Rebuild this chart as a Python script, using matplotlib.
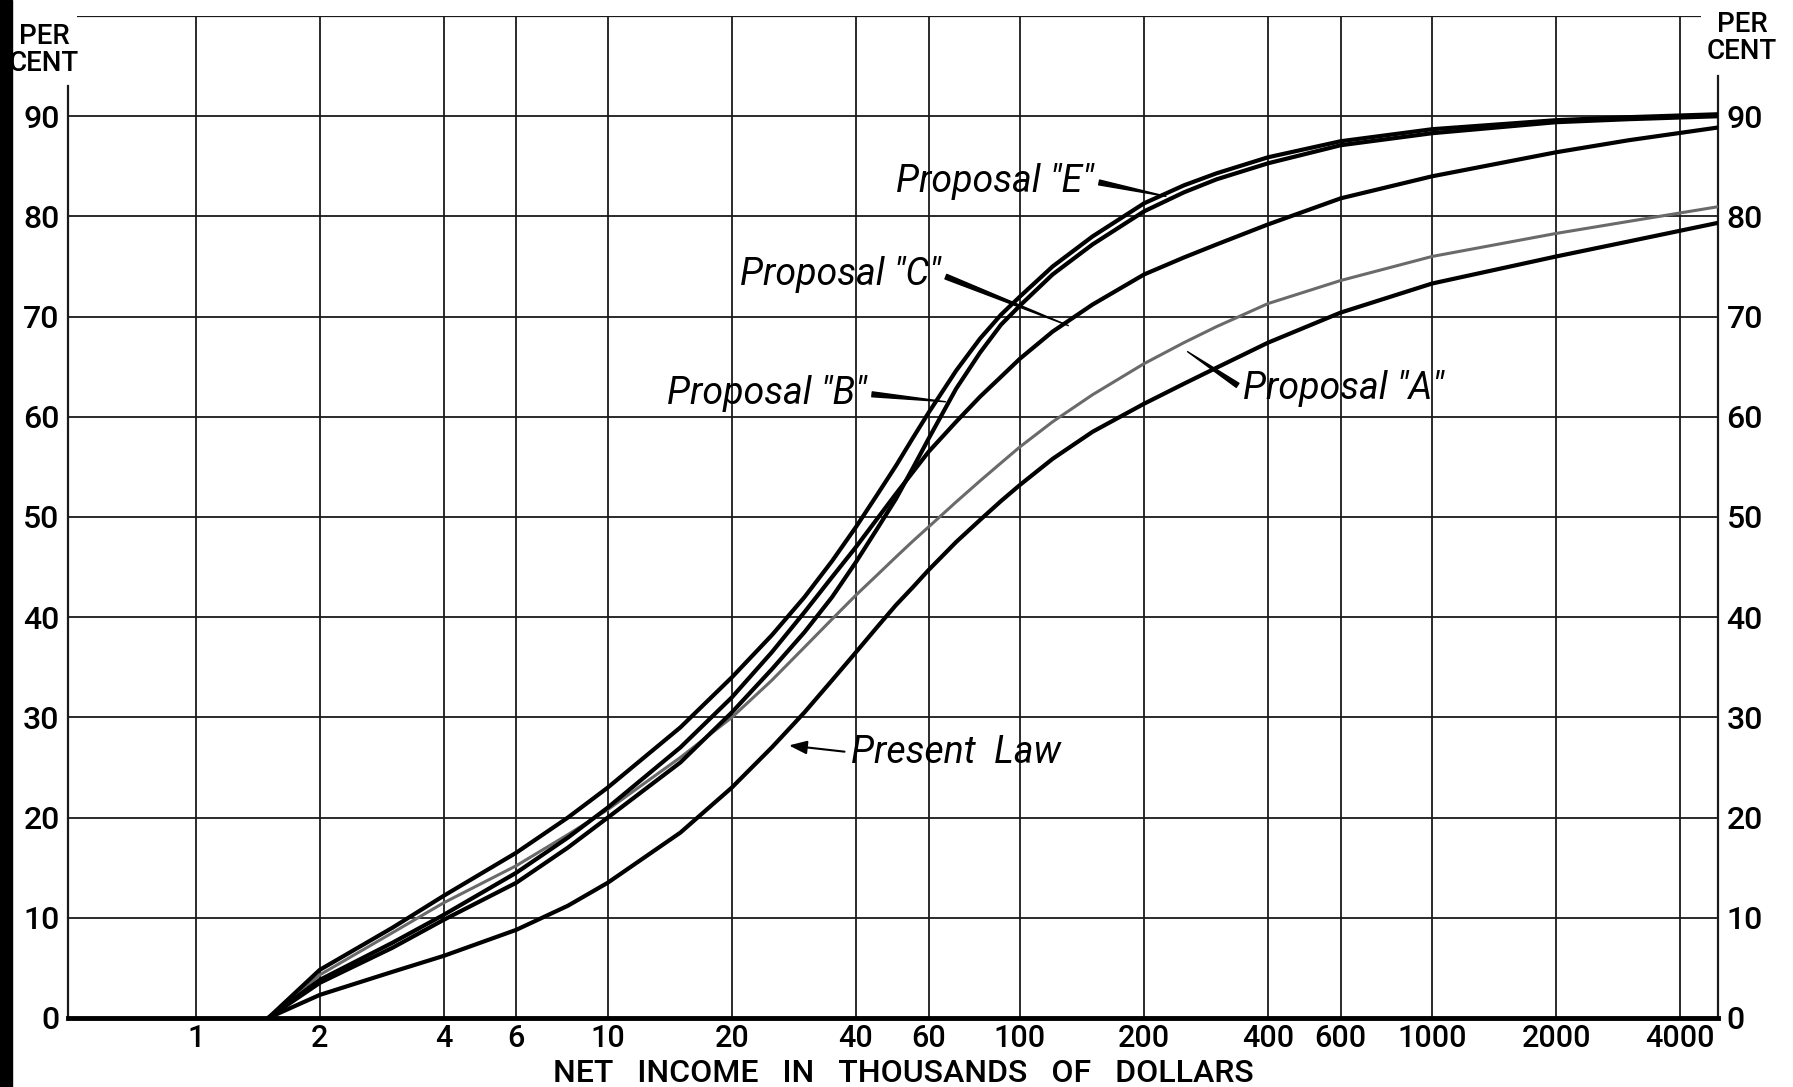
import matplotlib
matplotlib.use("Agg")
import matplotlib.pyplot as plt
from matplotlib.patches import Rectangle

plt.rcParams['font.family'] = ['Roboto', 'DejaVu Sans']

# income in thousands of dollars (log axis)
income = [1.5, 2, 3, 4, 6, 8, 10, 15, 20, 25, 30, 35, 40, 45, 50, 55, 60, 70, 80, 90, 100,
          120, 150, 200, 250, 300, 400, 600, 1000, 2000, 3000, 5000]

present_law = [0, 2.3, 4.6, 6.2, 8.8, 11.2, 13.5, 18.5, 23, 27, 30.5, 33.7, 36.5, 39, 41.2, 43,
               44.7, 47.5, 49.7, 51.6, 53.2, 55.8, 58.5, 61.3, 63.3, 64.9, 67.4, 70.4, 73.3,
               76.0, 77.5, 79.4]
proposal_a = [0, 4.3, 8.5, 11.5, 15.2, 18.3, 20.8, 26, 30, 33.7, 37, 39.8, 42.2, 44.2, 46, 47.6,
              49, 51.5, 53.6, 55.4, 57, 59.5, 62.2, 65.3, 67.4, 69, 71.3, 73.6, 76, 78.3,
              79.5, 81]
proposal_b = [0, 3.5, 7, 9.8, 13.5, 17, 20, 25.5, 30.5, 34.8, 38.5, 42, 45.5, 48.8, 51.8, 54.9,
              57.8, 62.8, 66.4, 69.2, 71.1, 74.2, 77.2, 80.5, 82.4, 83.7, 85.3, 87.1, 88.3,
              89.4, 89.7, 90.0]
proposal_c = [0, 3.8, 7.5, 10.3, 14.5, 18, 21, 27, 32, 36.5, 40.5, 44, 47, 49.8, 52.3, 54.5,
              56.5, 59.5, 62, 64, 65.8, 68.5, 71.2, 74.2, 75.9, 77.2, 79.2, 81.8, 84, 86.4,
              87.6, 88.9]
proposal_e = [0, 4.8, 9, 12.2, 16.5, 20, 23, 29, 34, 38.2, 42, 45.6, 49, 52.2, 55.1, 57.9,
              60.4, 64.6, 67.8, 70.2, 72, 75, 78, 81.3, 83.1, 84.3, 85.9, 87.5, 88.7, 89.6,
              89.9, 90.2]

x_ticks = [1, 2, 4, 6, 10, 20, 40, 60, 100, 200, 400, 600, 1000, 2000, 4000]
y_ticks = [0, 10, 20, 30, 40, 50, 60, 70, 80, 90]

XMIN, XMAX = 0.49, 4940

fig = plt.figure(figsize=(17.93, 10.87), dpi=100)
ax = fig.add_axes([0.0379, 0.0635, 0.9203, 0.9218])
ax.set_xscale('log')
ax.set_xlim(XMIN, XMAX)
ax.set_ylim(0, 100)

# grid drawn by hand so the corners stay open like the original
ax.vlines(x_ticks, 0, 100, color='#1a1a1a', lw=1.3, zorder=1)
ax.hlines(y_ticks[1:], XMIN, XMAX, color='#1a1a1a', lw=1.3, zorder=1)
ax.hlines(100, XMIN * 1.05, 4500, color='#1a1a1a', lw=1.6, zorder=1)
ax.plot([0, 0], [0, 0.93], transform=ax.transAxes, color='#1a1a1a', lw=1.6, clip_on=False)
ax.plot([1, 1], [0, 0.94], transform=ax.transAxes, color='#1a1a1a', lw=1.6, clip_on=False)
ax.axhline(0, color='black', lw=3.5, clip_on=False, zorder=3)
for s in ax.spines.values():
    s.set_visible(False)

line_kw = dict(color='black', lw=3.0, zorder=4, solid_capstyle='round', solid_joinstyle='round')
ax.plot(income, present_law, **line_kw)
ax.plot(income, proposal_a, color='#6a6a6a', lw=2.2, zorder=4, solid_joinstyle='round')
ax.plot(income, proposal_c, **line_kw)
ax.plot(income, proposal_b, **line_kw)
ax.plot(income, proposal_e, **line_kw)

ax.set_xticks(x_ticks)
ax.set_xticklabels([str(t) for t in x_ticks])
ax.minorticks_off()
ax.set_yticks(y_ticks)
ax.tick_params(axis='x', length=0, pad=4, labelsize=22)
ax.tick_params(axis='y', length=0, pad=6, labelsize=23, labelright=True)
for lab in ax.get_xticklabels() + ax.get_yticklabels():
    lab.set_fontweight('medium')

fig.text(903 / 1793, 1 - 1074 / 1087, 'NET   INCOME   IN   THOUSANDS   OF   DOLLARS',
         ha='center', va='center', fontsize=23, fontweight='medium')
fig.text(44 / 1793, 1 - 50 / 1087, 'PER\nCENT', ha='center', va='center',
         fontsize=20, fontweight='medium', linespacing=1.0)
fig.text(1742 / 1793, 1 - 38 / 1087, 'PER\nCENT', ha='center', va='center',
         fontsize=20, fontweight='medium', linespacing=1.0)

lab_kw = dict(fontsize=27, style='italic', ha='left', va='center', zorder=6)
wedge = dict(arrowstyle='wedge,tail_width=0.13', color='black', shrinkA=2, shrinkB=0)

ax.annotate('Proposal "E"', xy=(226, 82), xytext=(50, 83.5),
            arrowprops=dict(wedge, relpos=(1, 0.5)), **lab_kw)
ax.annotate('Proposal "C"', xy=(131, 69.1), xytext=(20.9, 74.2),
            arrowprops=dict(wedge, relpos=(1, 0.5)), **lab_kw)
ax.annotate('Proposal "B"', xy=(66, 61.5), xytext=(13.9, 62.3),
            arrowprops=dict(wedge, relpos=(1, 0.5)), **lab_kw)
ax.annotate('Proposal "A"', xy=(255, 66.5), xytext=(347, 62.8),
            arrowprops=dict(wedge, relpos=(0, 0.5)), **lab_kw)
ax.annotate('Present  Law', xy=(27.5, 27.2), xytext=(39, 26.5),
            arrowprops=dict(arrowstyle='-|>,head_length=0.4,head_width=0.15', color='black',
                            lw=1.5, relpos=(0, 0.5), shrinkA=3, shrinkB=0), **lab_kw)

# dark strip at the left edge of the scanned page
fig.patches.append(Rectangle((0, 0), 12 / 1793, 1, transform=fig.transFigure,
                             color='black', zorder=10))

fig.savefig('out.png', dpi=100)
